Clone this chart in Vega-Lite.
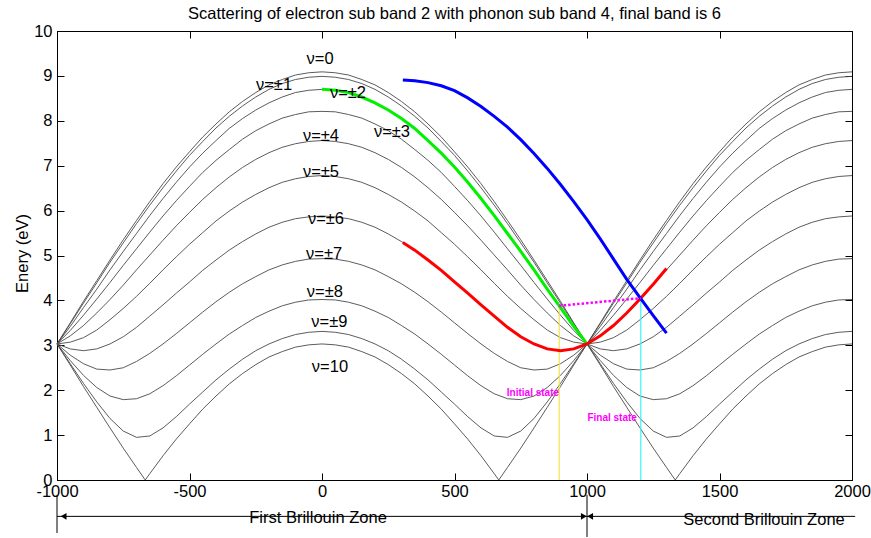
{
"$schema":"https://vega.github.io/schema/vega-lite/v6.json",
"width":795,"height":449,
"autosize":{"type":"none"},
"padding":{"left":57,"top":31,"right":19,"bottom":58},
"background":"white",
"title":{"text":"Scattering of electron sub band 2 with phonon sub band 4, final band is 6","font":"Liberation Sans","fontSize":16.5,"fontWeight":"normal","color":"#000","anchor":"middle","offset":1},
"config":{"view":{"stroke":"#000","strokeWidth":1},"axis":{"grid":false,"labelFont":"Liberation Sans","labelFontSize":16.5,"labelColor":"#000","titleFont":"Liberation Sans","titleFontSize":16.5,"titleFontWeight":"normal","titleColor":"#000","domainColor":"#000","tickColor":"#000","labelFlush":false,"labelOverlap":false}},
"datasets":{
"bands":[
{"n":0,"k":-1000,"E":3.03},{"n":0,"k":-950,"E":3.50},{"n":0,"k":-900,"E":3.98},{"n":0,"k":-850,"E":4.44},{"n":0,"k":-800,"E":4.90},{"n":0,"k":-750,"E":5.35},{"n":0,"k":-700,"E":5.78},{"n":0,"k":-650,"E":6.20},{"n":0,"k":-600,"E":6.60},{"n":0,"k":-550,"E":6.97},{"n":0,"k":-500,"E":7.31},{"n":0,"k":-450,"E":7.64},{"n":0,"k":-400,"E":7.93},{"n":0,"k":-350,"E":8.20},{"n":0,"k":-300,"E":8.43},{"n":0,"k":-250,"E":8.63},{"n":0,"k":-200,"E":8.80},{"n":0,"k":-150,"E":8.92},{"n":0,"k":-100,"E":9.02},{"n":0,"k":-50,"E":9.07},{"n":0,"k":0,"E":9.09},
{"n":0,"k":50,"E":9.07},{"n":0,"k":100,"E":9.02},{"n":0,"k":150,"E":8.92},{"n":0,"k":200,"E":8.80},{"n":0,"k":250,"E":8.63},{"n":0,"k":300,"E":8.43},{"n":0,"k":350,"E":8.20},{"n":0,"k":400,"E":7.93},{"n":0,"k":450,"E":7.64},{"n":0,"k":500,"E":7.31},{"n":0,"k":550,"E":6.97},{"n":0,"k":600,"E":6.60},{"n":0,"k":650,"E":6.20},{"n":0,"k":700,"E":5.78},{"n":0,"k":750,"E":5.35},{"n":0,"k":800,"E":4.90},{"n":0,"k":850,"E":4.44},{"n":0,"k":900,"E":3.98},{"n":0,"k":950,"E":3.50},{"n":0,"k":1000,"E":3.03},
{"n":0,"k":1050,"E":3.50},{"n":0,"k":1100,"E":3.98},{"n":0,"k":1150,"E":4.44},{"n":0,"k":1200,"E":4.90},{"n":0,"k":1250,"E":5.35},{"n":0,"k":1300,"E":5.78},{"n":0,"k":1350,"E":6.20},{"n":0,"k":1400,"E":6.60},{"n":0,"k":1450,"E":6.97},{"n":0,"k":1500,"E":7.31},{"n":0,"k":1550,"E":7.64},{"n":0,"k":1600,"E":7.93},{"n":0,"k":1650,"E":8.20},{"n":0,"k":1700,"E":8.43},{"n":0,"k":1750,"E":8.63},{"n":0,"k":1800,"E":8.80},{"n":0,"k":1850,"E":8.92},{"n":0,"k":1900,"E":9.02},{"n":0,"k":1950,"E":9.07},{"n":0,"k":2000,"E":9.09},

{"n":1,"k":-1000,"E":3.03},{"n":1,"k":-950,"E":3.48},{"n":1,"k":-900,"E":3.94},{"n":1,"k":-850,"E":4.39},{"n":1,"k":-800,"E":4.85},{"n":1,"k":-750,"E":5.28},{"n":1,"k":-700,"E":5.71},{"n":1,"k":-650,"E":6.12},{"n":1,"k":-600,"E":6.51},{"n":1,"k":-550,"E":6.88},{"n":1,"k":-500,"E":7.23},{"n":1,"k":-450,"E":7.54},{"n":1,"k":-400,"E":7.84},{"n":1,"k":-350,"E":8.10},{"n":1,"k":-300,"E":8.33},{"n":1,"k":-250,"E":8.53},{"n":1,"k":-200,"E":8.70},{"n":1,"k":-150,"E":8.83},{"n":1,"k":-100,"E":8.92},{"n":1,"k":-50,"E":8.97},{"n":1,"k":0,"E":8.99},
{"n":1,"k":50,"E":8.97},{"n":1,"k":100,"E":8.92},{"n":1,"k":150,"E":8.83},{"n":1,"k":200,"E":8.70},{"n":1,"k":250,"E":8.53},{"n":1,"k":300,"E":8.33},{"n":1,"k":350,"E":8.10},{"n":1,"k":400,"E":7.84},{"n":1,"k":450,"E":7.54},{"n":1,"k":500,"E":7.23},{"n":1,"k":550,"E":6.88},{"n":1,"k":600,"E":6.51},{"n":1,"k":650,"E":6.12},{"n":1,"k":700,"E":5.71},{"n":1,"k":750,"E":5.28},{"n":1,"k":800,"E":4.85},{"n":1,"k":850,"E":4.39},{"n":1,"k":900,"E":3.94},{"n":1,"k":950,"E":3.48},{"n":1,"k":1000,"E":3.03},
{"n":1,"k":1050,"E":3.48},{"n":1,"k":1100,"E":3.94},{"n":1,"k":1150,"E":4.39},{"n":1,"k":1200,"E":4.85},{"n":1,"k":1250,"E":5.28},{"n":1,"k":1300,"E":5.71},{"n":1,"k":1350,"E":6.12},{"n":1,"k":1400,"E":6.51},{"n":1,"k":1450,"E":6.88},{"n":1,"k":1500,"E":7.23},{"n":1,"k":1550,"E":7.54},{"n":1,"k":1600,"E":7.84},{"n":1,"k":1650,"E":8.10},{"n":1,"k":1700,"E":8.33},{"n":1,"k":1750,"E":8.53},{"n":1,"k":1800,"E":8.70},{"n":1,"k":1850,"E":8.83},{"n":1,"k":1900,"E":8.92},{"n":1,"k":1950,"E":8.97},{"n":1,"k":2000,"E":8.99},

{"n":2,"k":-1000,"E":3.03},{"n":2,"k":-950,"E":3.42},{"n":2,"k":-900,"E":3.84},{"n":2,"k":-850,"E":4.25},{"n":2,"k":-800,"E":4.68},{"n":2,"k":-750,"E":5.09},{"n":2,"k":-700,"E":5.49},{"n":2,"k":-650,"E":5.89},{"n":2,"k":-600,"E":6.27},{"n":2,"k":-550,"E":6.63},{"n":2,"k":-500,"E":6.97},{"n":2,"k":-450,"E":7.28},{"n":2,"k":-400,"E":7.56},{"n":2,"k":-350,"E":7.83},{"n":2,"k":-300,"E":8.05},{"n":2,"k":-250,"E":8.24},{"n":2,"k":-200,"E":8.40},{"n":2,"k":-150,"E":8.53},{"n":2,"k":-100,"E":8.63},{"n":2,"k":-50,"E":8.68},{"n":2,"k":0,"E":8.70},
{"n":2,"k":50,"E":8.68},{"n":2,"k":100,"E":8.63},{"n":2,"k":150,"E":8.53},{"n":2,"k":200,"E":8.40},{"n":2,"k":250,"E":8.24},{"n":2,"k":300,"E":8.05},{"n":2,"k":350,"E":7.83},{"n":2,"k":400,"E":7.56},{"n":2,"k":450,"E":7.28},{"n":2,"k":500,"E":6.97},{"n":2,"k":550,"E":6.63},{"n":2,"k":600,"E":6.27},{"n":2,"k":650,"E":5.89},{"n":2,"k":700,"E":5.49},{"n":2,"k":750,"E":5.09},{"n":2,"k":800,"E":4.68},{"n":2,"k":850,"E":4.25},{"n":2,"k":900,"E":3.84},{"n":2,"k":950,"E":3.42},{"n":2,"k":1000,"E":3.03},
{"n":2,"k":1050,"E":3.42},{"n":2,"k":1100,"E":3.84},{"n":2,"k":1150,"E":4.25},{"n":2,"k":1200,"E":4.68},{"n":2,"k":1250,"E":5.09},{"n":2,"k":1300,"E":5.49},{"n":2,"k":1350,"E":5.89},{"n":2,"k":1400,"E":6.27},{"n":2,"k":1450,"E":6.63},{"n":2,"k":1500,"E":6.97},{"n":2,"k":1550,"E":7.28},{"n":2,"k":1600,"E":7.56},{"n":2,"k":1650,"E":7.83},{"n":2,"k":1700,"E":8.05},{"n":2,"k":1750,"E":8.24},{"n":2,"k":1800,"E":8.40},{"n":2,"k":1850,"E":8.53},{"n":2,"k":1900,"E":8.63},{"n":2,"k":1950,"E":8.68},{"n":2,"k":2000,"E":8.70},

{"n":3,"k":-1000,"E":3.03},{"n":3,"k":-950,"E":3.33},{"n":3,"k":-900,"E":3.67},{"n":3,"k":-850,"E":4.03},{"n":3,"k":-800,"E":4.40},{"n":3,"k":-750,"E":4.78},{"n":3,"k":-700,"E":5.15},{"n":3,"k":-650,"E":5.52},{"n":3,"k":-600,"E":5.88},{"n":3,"k":-550,"E":6.22},{"n":3,"k":-500,"E":6.54},{"n":3,"k":-450,"E":6.85},{"n":3,"k":-400,"E":7.12},{"n":3,"k":-350,"E":7.36},{"n":3,"k":-300,"E":7.59},{"n":3,"k":-250,"E":7.78},{"n":3,"k":-200,"E":7.93},{"n":3,"k":-150,"E":8.06},{"n":3,"k":-100,"E":8.14},{"n":3,"k":-50,"E":8.20},{"n":3,"k":0,"E":8.21},
{"n":3,"k":50,"E":8.20},{"n":3,"k":100,"E":8.14},{"n":3,"k":150,"E":8.06},{"n":3,"k":200,"E":7.93},{"n":3,"k":250,"E":7.78},{"n":3,"k":300,"E":7.59},{"n":3,"k":350,"E":7.36},{"n":3,"k":400,"E":7.12},{"n":3,"k":450,"E":6.85},{"n":3,"k":500,"E":6.54},{"n":3,"k":550,"E":6.22},{"n":3,"k":600,"E":5.88},{"n":3,"k":650,"E":5.52},{"n":3,"k":700,"E":5.15},{"n":3,"k":750,"E":4.78},{"n":3,"k":800,"E":4.40},{"n":3,"k":850,"E":4.03},{"n":3,"k":900,"E":3.67},{"n":3,"k":950,"E":3.33},{"n":3,"k":1000,"E":3.03},
{"n":3,"k":1050,"E":3.33},{"n":3,"k":1100,"E":3.67},{"n":3,"k":1150,"E":4.03},{"n":3,"k":1200,"E":4.40},{"n":3,"k":1250,"E":4.78},{"n":3,"k":1300,"E":5.15},{"n":3,"k":1350,"E":5.52},{"n":3,"k":1400,"E":5.88},{"n":3,"k":1450,"E":6.22},{"n":3,"k":1500,"E":6.54},{"n":3,"k":1550,"E":6.85},{"n":3,"k":1600,"E":7.12},{"n":3,"k":1650,"E":7.36},{"n":3,"k":1700,"E":7.59},{"n":3,"k":1750,"E":7.78},{"n":3,"k":1800,"E":7.93},{"n":3,"k":1850,"E":8.06},{"n":3,"k":1900,"E":8.14},{"n":3,"k":1950,"E":8.20},{"n":3,"k":2000,"E":8.21},

{"n":4,"k":-1000,"E":3.03},{"n":4,"k":-950,"E":3.21},{"n":4,"k":-900,"E":3.44},{"n":4,"k":-850,"E":3.72},{"n":4,"k":-800,"E":4.02},{"n":4,"k":-750,"E":4.34},{"n":4,"k":-700,"E":4.68},{"n":4,"k":-650,"E":5.01},{"n":4,"k":-600,"E":5.34},{"n":4,"k":-550,"E":5.66},{"n":4,"k":-500,"E":5.96},{"n":4,"k":-450,"E":6.25},{"n":4,"k":-400,"E":6.51},{"n":4,"k":-350,"E":6.75},{"n":4,"k":-300,"E":6.96},{"n":4,"k":-250,"E":7.14},{"n":4,"k":-200,"E":7.29},{"n":4,"k":-150,"E":7.41},{"n":4,"k":-100,"E":7.49},{"n":4,"k":-50,"E":7.54},{"n":4,"k":0,"E":7.56},
{"n":4,"k":50,"E":7.54},{"n":4,"k":100,"E":7.49},{"n":4,"k":150,"E":7.41},{"n":4,"k":200,"E":7.29},{"n":4,"k":250,"E":7.14},{"n":4,"k":300,"E":6.96},{"n":4,"k":350,"E":6.75},{"n":4,"k":400,"E":6.51},{"n":4,"k":450,"E":6.25},{"n":4,"k":500,"E":5.96},{"n":4,"k":550,"E":5.66},{"n":4,"k":600,"E":5.34},{"n":4,"k":650,"E":5.01},{"n":4,"k":700,"E":4.68},{"n":4,"k":750,"E":4.34},{"n":4,"k":800,"E":4.02},{"n":4,"k":850,"E":3.72},{"n":4,"k":900,"E":3.44},{"n":4,"k":950,"E":3.21},{"n":4,"k":1000,"E":3.03},
{"n":4,"k":1050,"E":3.21},{"n":4,"k":1100,"E":3.44},{"n":4,"k":1150,"E":3.72},{"n":4,"k":1200,"E":4.02},{"n":4,"k":1250,"E":4.34},{"n":4,"k":1300,"E":4.68},{"n":4,"k":1350,"E":5.01},{"n":4,"k":1400,"E":5.34},{"n":4,"k":1450,"E":5.66},{"n":4,"k":1500,"E":5.96},{"n":4,"k":1550,"E":6.25},{"n":4,"k":1600,"E":6.51},{"n":4,"k":1650,"E":6.75},{"n":4,"k":1700,"E":6.96},{"n":4,"k":1750,"E":7.14},{"n":4,"k":1800,"E":7.29},{"n":4,"k":1850,"E":7.41},{"n":4,"k":1900,"E":7.49},{"n":4,"k":1950,"E":7.54},{"n":4,"k":2000,"E":7.56},

{"n":5,"k":-1000,"E":3.03},{"n":5,"k":-950,"E":3.07},{"n":5,"k":-900,"E":3.17},{"n":5,"k":-850,"E":3.34},{"n":5,"k":-800,"E":3.57},{"n":5,"k":-750,"E":3.82},{"n":5,"k":-700,"E":4.09},{"n":5,"k":-650,"E":4.38},{"n":5,"k":-600,"E":4.68},{"n":5,"k":-550,"E":4.97},{"n":5,"k":-500,"E":5.25},{"n":5,"k":-450,"E":5.51},{"n":5,"k":-400,"E":5.77},{"n":5,"k":-350,"E":5.99},{"n":5,"k":-300,"E":6.19},{"n":5,"k":-250,"E":6.36},{"n":5,"k":-200,"E":6.51},{"n":5,"k":-150,"E":6.63},{"n":5,"k":-100,"E":6.71},{"n":5,"k":-50,"E":6.76},{"n":5,"k":0,"E":6.78},
{"n":5,"k":50,"E":6.76},{"n":5,"k":100,"E":6.71},{"n":5,"k":150,"E":6.63},{"n":5,"k":200,"E":6.51},{"n":5,"k":250,"E":6.36},{"n":5,"k":300,"E":6.19},{"n":5,"k":350,"E":5.99},{"n":5,"k":400,"E":5.77},{"n":5,"k":450,"E":5.51},{"n":5,"k":500,"E":5.25},{"n":5,"k":550,"E":4.97},{"n":5,"k":600,"E":4.68},{"n":5,"k":650,"E":4.38},{"n":5,"k":700,"E":4.09},{"n":5,"k":750,"E":3.82},{"n":5,"k":800,"E":3.57},{"n":5,"k":850,"E":3.34},{"n":5,"k":900,"E":3.17},{"n":5,"k":950,"E":3.07},{"n":5,"k":1000,"E":3.03},
{"n":5,"k":1050,"E":3.07},{"n":5,"k":1100,"E":3.17},{"n":5,"k":1150,"E":3.34},{"n":5,"k":1200,"E":3.57},{"n":5,"k":1250,"E":3.82},{"n":5,"k":1300,"E":4.09},{"n":5,"k":1350,"E":4.38},{"n":5,"k":1400,"E":4.68},{"n":5,"k":1450,"E":4.97},{"n":5,"k":1500,"E":5.25},{"n":5,"k":1550,"E":5.51},{"n":5,"k":1600,"E":5.77},{"n":5,"k":1650,"E":5.99},{"n":5,"k":1700,"E":6.19},{"n":5,"k":1750,"E":6.36},{"n":5,"k":1800,"E":6.51},{"n":5,"k":1850,"E":6.63},{"n":5,"k":1900,"E":6.71},{"n":5,"k":1950,"E":6.76},{"n":5,"k":2000,"E":6.78},

{"n":6,"k":-1000,"E":3.03},{"n":6,"k":-950,"E":2.92},{"n":6,"k":-900,"E":2.88},{"n":6,"k":-850,"E":2.92},{"n":6,"k":-800,"E":3.03},{"n":6,"k":-750,"E":3.19},{"n":6,"k":-700,"E":3.40},{"n":6,"k":-650,"E":3.65},{"n":6,"k":-600,"E":3.90},{"n":6,"k":-550,"E":4.16},{"n":6,"k":-500,"E":4.41},{"n":6,"k":-450,"E":4.67},{"n":6,"k":-400,"E":4.90},{"n":6,"k":-350,"E":5.12},{"n":6,"k":-300,"E":5.31},{"n":6,"k":-250,"E":5.48},{"n":6,"k":-200,"E":5.63},{"n":6,"k":-150,"E":5.74},{"n":6,"k":-100,"E":5.82},{"n":6,"k":-50,"E":5.86},{"n":6,"k":0,"E":5.88},
{"n":6,"k":50,"E":5.86},{"n":6,"k":100,"E":5.82},{"n":6,"k":150,"E":5.74},{"n":6,"k":200,"E":5.63},{"n":6,"k":250,"E":5.48},{"n":6,"k":300,"E":5.31},{"n":6,"k":350,"E":5.12},{"n":6,"k":400,"E":4.90},{"n":6,"k":450,"E":4.67},{"n":6,"k":500,"E":4.41},{"n":6,"k":550,"E":4.16},{"n":6,"k":600,"E":3.90},{"n":6,"k":650,"E":3.65},{"n":6,"k":700,"E":3.40},{"n":6,"k":750,"E":3.19},{"n":6,"k":800,"E":3.03},{"n":6,"k":850,"E":2.92},{"n":6,"k":900,"E":2.88},{"n":6,"k":950,"E":2.92},{"n":6,"k":1000,"E":3.03},
{"n":6,"k":1050,"E":2.92},{"n":6,"k":1100,"E":2.88},{"n":6,"k":1150,"E":2.92},{"n":6,"k":1200,"E":3.03},{"n":6,"k":1250,"E":3.19},{"n":6,"k":1300,"E":3.40},{"n":6,"k":1350,"E":3.65},{"n":6,"k":1400,"E":3.90},{"n":6,"k":1450,"E":4.16},{"n":6,"k":1500,"E":4.41},{"n":6,"k":1550,"E":4.67},{"n":6,"k":1600,"E":4.90},{"n":6,"k":1650,"E":5.12},{"n":6,"k":1700,"E":5.31},{"n":6,"k":1750,"E":5.48},{"n":6,"k":1800,"E":5.63},{"n":6,"k":1850,"E":5.74},{"n":6,"k":1900,"E":5.82},{"n":6,"k":1950,"E":5.86},{"n":6,"k":2000,"E":5.88},

{"n":7,"k":-1000,"E":3.03},{"n":7,"k":-950,"E":2.78},{"n":7,"k":-900,"E":2.59},{"n":7,"k":-850,"E":2.47},{"n":7,"k":-800,"E":2.45},{"n":7,"k":-750,"E":2.50},{"n":7,"k":-700,"E":2.64},{"n":7,"k":-650,"E":2.82},{"n":7,"k":-600,"E":3.03},{"n":7,"k":-550,"E":3.26},{"n":7,"k":-500,"E":3.50},{"n":7,"k":-450,"E":3.74},{"n":7,"k":-400,"E":3.97},{"n":7,"k":-350,"E":4.18},{"n":7,"k":-300,"E":4.37},{"n":7,"k":-250,"E":4.53},{"n":7,"k":-200,"E":4.68},{"n":7,"k":-150,"E":4.79},{"n":7,"k":-100,"E":4.87},{"n":7,"k":-50,"E":4.92},{"n":7,"k":0,"E":4.93},
{"n":7,"k":50,"E":4.92},{"n":7,"k":100,"E":4.87},{"n":7,"k":150,"E":4.79},{"n":7,"k":200,"E":4.68},{"n":7,"k":250,"E":4.53},{"n":7,"k":300,"E":4.37},{"n":7,"k":350,"E":4.18},{"n":7,"k":400,"E":3.97},{"n":7,"k":450,"E":3.74},{"n":7,"k":500,"E":3.50},{"n":7,"k":550,"E":3.26},{"n":7,"k":600,"E":3.03},{"n":7,"k":650,"E":2.82},{"n":7,"k":700,"E":2.64},{"n":7,"k":750,"E":2.50},{"n":7,"k":800,"E":2.45},{"n":7,"k":850,"E":2.47},{"n":7,"k":900,"E":2.59},{"n":7,"k":950,"E":2.78},{"n":7,"k":1000,"E":3.03},
{"n":7,"k":1050,"E":2.78},{"n":7,"k":1100,"E":2.59},{"n":7,"k":1150,"E":2.47},{"n":7,"k":1200,"E":2.45},{"n":7,"k":1250,"E":2.50},{"n":7,"k":1300,"E":2.64},{"n":7,"k":1350,"E":2.82},{"n":7,"k":1400,"E":3.03},{"n":7,"k":1450,"E":3.26},{"n":7,"k":1500,"E":3.50},{"n":7,"k":1550,"E":3.74},{"n":7,"k":1600,"E":3.97},{"n":7,"k":1650,"E":4.18},{"n":7,"k":1700,"E":4.37},{"n":7,"k":1750,"E":4.53},{"n":7,"k":1800,"E":4.68},{"n":7,"k":1850,"E":4.79},{"n":7,"k":1900,"E":4.87},{"n":7,"k":1950,"E":4.92},{"n":7,"k":2000,"E":4.93},

{"n":8,"k":-1000,"E":3.03},{"n":8,"k":-950,"E":2.66},{"n":8,"k":-900,"E":2.33},{"n":8,"k":-850,"E":2.06},{"n":8,"k":-800,"E":1.87},{"n":8,"k":-750,"E":1.79},{"n":8,"k":-700,"E":1.81},{"n":8,"k":-650,"E":1.92},{"n":8,"k":-600,"E":2.10},{"n":8,"k":-550,"E":2.32},{"n":8,"k":-500,"E":2.56},{"n":8,"k":-450,"E":2.80},{"n":8,"k":-400,"E":3.03},{"n":8,"k":-350,"E":3.25},{"n":8,"k":-300,"E":3.44},{"n":8,"k":-250,"E":3.62},{"n":8,"k":-200,"E":3.76},{"n":8,"k":-150,"E":3.88},{"n":8,"k":-100,"E":3.96},{"n":8,"k":-50,"E":4.01},{"n":8,"k":0,"E":4.02},
{"n":8,"k":50,"E":4.01},{"n":8,"k":100,"E":3.96},{"n":8,"k":150,"E":3.88},{"n":8,"k":200,"E":3.76},{"n":8,"k":250,"E":3.62},{"n":8,"k":300,"E":3.44},{"n":8,"k":350,"E":3.25},{"n":8,"k":400,"E":3.03},{"n":8,"k":450,"E":2.80},{"n":8,"k":500,"E":2.56},{"n":8,"k":550,"E":2.32},{"n":8,"k":600,"E":2.10},{"n":8,"k":650,"E":1.92},{"n":8,"k":700,"E":1.81},{"n":8,"k":750,"E":1.79},{"n":8,"k":800,"E":1.87},{"n":8,"k":850,"E":2.06},{"n":8,"k":900,"E":2.33},{"n":8,"k":950,"E":2.66},{"n":8,"k":1000,"E":3.03},
{"n":8,"k":1050,"E":2.66},{"n":8,"k":1100,"E":2.33},{"n":8,"k":1150,"E":2.06},{"n":8,"k":1200,"E":1.87},{"n":8,"k":1250,"E":1.79},{"n":8,"k":1300,"E":1.81},{"n":8,"k":1350,"E":1.92},{"n":8,"k":1400,"E":2.10},{"n":8,"k":1450,"E":2.32},{"n":8,"k":1500,"E":2.56},{"n":8,"k":1550,"E":2.80},{"n":8,"k":1600,"E":3.03},{"n":8,"k":1650,"E":3.25},{"n":8,"k":1700,"E":3.44},{"n":8,"k":1750,"E":3.62},{"n":8,"k":1800,"E":3.76},{"n":8,"k":1850,"E":3.88},{"n":8,"k":1900,"E":3.96},{"n":8,"k":1950,"E":4.01},{"n":8,"k":2000,"E":4.02},

{"n":9,"k":-1000,"E":3.03},{"n":9,"k":-950,"E":2.59},{"n":9,"k":-900,"E":2.15},{"n":9,"k":-850,"E":1.74},{"n":9,"k":-800,"E":1.37},{"n":9,"k":-750,"E":1.09},{"n":9,"k":-700,"E":0.95},{"n":9,"k":-650,"E":0.98},{"n":9,"k":-600,"E":1.16},{"n":9,"k":-550,"E":1.41},{"n":9,"k":-500,"E":1.69},{"n":9,"k":-450,"E":1.96},{"n":9,"k":-400,"E":2.23},{"n":9,"k":-350,"E":2.47},{"n":9,"k":-300,"E":2.69},{"n":9,"k":-250,"E":2.88},{"n":9,"k":-200,"E":3.03},{"n":9,"k":-150,"E":3.15},{"n":9,"k":-100,"E":3.24},{"n":9,"k":-50,"E":3.29},{"n":9,"k":0,"E":3.31},
{"n":9,"k":50,"E":3.29},{"n":9,"k":100,"E":3.24},{"n":9,"k":150,"E":3.15},{"n":9,"k":200,"E":3.03},{"n":9,"k":250,"E":2.88},{"n":9,"k":300,"E":2.69},{"n":9,"k":350,"E":2.47},{"n":9,"k":400,"E":2.23},{"n":9,"k":450,"E":1.96},{"n":9,"k":500,"E":1.69},{"n":9,"k":550,"E":1.41},{"n":9,"k":600,"E":1.16},{"n":9,"k":650,"E":0.98},{"n":9,"k":700,"E":0.95},{"n":9,"k":750,"E":1.09},{"n":9,"k":800,"E":1.37},{"n":9,"k":850,"E":1.74},{"n":9,"k":900,"E":2.15},{"n":9,"k":950,"E":2.59},{"n":9,"k":1000,"E":3.03},
{"n":9,"k":1050,"E":2.59},{"n":9,"k":1100,"E":2.15},{"n":9,"k":1150,"E":1.74},{"n":9,"k":1200,"E":1.37},{"n":9,"k":1250,"E":1.09},{"n":9,"k":1300,"E":0.95},{"n":9,"k":1350,"E":0.98},{"n":9,"k":1400,"E":1.16},{"n":9,"k":1450,"E":1.41},{"n":9,"k":1500,"E":1.69},{"n":9,"k":1550,"E":1.96},{"n":9,"k":1600,"E":2.23},{"n":9,"k":1650,"E":2.47},{"n":9,"k":1700,"E":2.69},{"n":9,"k":1750,"E":2.88},{"n":9,"k":1800,"E":3.03},{"n":9,"k":1850,"E":3.15},{"n":9,"k":1900,"E":3.24},{"n":9,"k":1950,"E":3.29},{"n":9,"k":2000,"E":3.31},

{"n":10,"k":-1000,"E":3.03},{"n":10,"k":-950,"E":2.56},{"n":10,"k":-900,"E":2.08},{"n":10,"k":-850,"E":1.62},{"n":10,"k":-800,"E":1.16},{"n":10,"k":-750,"E":0.71},{"n":10,"k":-700,"E":0.28},{"n":10,"k":-667,"E":0},{"n":10,"k":-650,"E":0.14},{"n":10,"k":-600,"E":0.54},{"n":10,"k":-550,"E":0.91},{"n":10,"k":-500,"E":1.25},{"n":10,"k":-450,"E":1.58},{"n":10,"k":-400,"E":1.87},{"n":10,"k":-350,"E":2.14},{"n":10,"k":-300,"E":2.37},{"n":10,"k":-250,"E":2.57},{"n":10,"k":-200,"E":2.74},{"n":10,"k":-150,"E":2.86},{"n":10,"k":-100,"E":2.96},{"n":10,"k":-50,"E":3.01},{"n":10,"k":0,"E":3.03},
{"n":10,"k":50,"E":3.01},{"n":10,"k":100,"E":2.96},{"n":10,"k":150,"E":2.86},{"n":10,"k":200,"E":2.74},{"n":10,"k":250,"E":2.57},{"n":10,"k":300,"E":2.37},{"n":10,"k":350,"E":2.14},{"n":10,"k":400,"E":1.87},{"n":10,"k":450,"E":1.58},{"n":10,"k":500,"E":1.25},{"n":10,"k":550,"E":0.91},{"n":10,"k":600,"E":0.54},{"n":10,"k":650,"E":0.14},{"n":10,"k":667,"E":0},{"n":10,"k":700,"E":0.28},{"n":10,"k":750,"E":0.71},{"n":10,"k":800,"E":1.16},{"n":10,"k":850,"E":1.62},{"n":10,"k":900,"E":2.08},{"n":10,"k":950,"E":2.56},{"n":10,"k":1000,"E":3.03},
{"n":10,"k":1050,"E":2.56},{"n":10,"k":1100,"E":2.08},{"n":10,"k":1150,"E":1.62},{"n":10,"k":1200,"E":1.16},{"n":10,"k":1250,"E":0.71},{"n":10,"k":1300,"E":0.28},{"n":10,"k":1333,"E":0},{"n":10,"k":1350,"E":0.14},{"n":10,"k":1400,"E":0.54},{"n":10,"k":1450,"E":0.91},{"n":10,"k":1500,"E":1.25},{"n":10,"k":1550,"E":1.58},{"n":10,"k":1600,"E":1.87},{"n":10,"k":1650,"E":2.14},{"n":10,"k":1700,"E":2.37},{"n":10,"k":1750,"E":2.57},{"n":10,"k":1800,"E":2.74},{"n":10,"k":1850,"E":2.86},{"n":10,"k":1900,"E":2.96},{"n":10,"k":1950,"E":3.01},{"n":10,"k":2000,"E":3.03}
],
"green":[{"k":0,"E":8.70},{"k":50,"E":8.68},{"k":100,"E":8.63},{"k":150,"E":8.53},{"k":200,"E":8.40},{"k":250,"E":8.24},{"k":300,"E":8.05},{"k":350,"E":7.83},{"k":400,"E":7.56},{"k":450,"E":7.28},{"k":500,"E":6.97},{"k":550,"E":6.63},{"k":600,"E":6.27},{"k":650,"E":5.89},{"k":700,"E":5.49},{"k":750,"E":5.09},{"k":800,"E":4.68},{"k":850,"E":4.25},{"k":900,"E":3.84},{"k":950,"E":3.42},{"k":1000,"E":3.03}],
"red":[{"k":305,"E":5.29},{"k":350,"E":5.12},{"k":400,"E":4.90},{"k":450,"E":4.67},{"k":500,"E":4.41},{"k":550,"E":4.16},{"k":600,"E":3.90},{"k":650,"E":3.65},{"k":700,"E":3.40},{"k":750,"E":3.19},{"k":800,"E":3.03},{"k":850,"E":2.92},{"k":900,"E":2.88},{"k":950,"E":2.92},{"k":1000,"E":3.03},{"k":1050,"E":3.21},{"k":1100,"E":3.44},{"k":1150,"E":3.72},{"k":1200,"E":4.03},{"k":1250,"E":4.36},{"k":1300,"E":4.71}],
"blue":[{"k":305,"E":8.91},{"k":350,"E":8.89},{"k":400,"E":8.85},{"k":450,"E":8.78},{"k":500,"E":8.67},{"k":550,"E":8.51},{"k":600,"E":8.32},{"k":650,"E":8.10},{"k":700,"E":7.86},{"k":750,"E":7.58},{"k":800,"E":7.27},{"k":850,"E":6.94},{"k":900,"E":6.58},{"k":950,"E":6.20},{"k":1000,"E":5.80},{"k":1050,"E":5.37},{"k":1100,"E":4.92},{"k":1150,"E":4.47},{"k":1200,"E":4.06},{"k":1250,"E":3.66},{"k":1300,"E":3.27}],
"dotted":[{"k":895,"E":3.88},{"k":1203,"E":4.05}],
"vlines":[{"k":895,"E":0,"E2":3.88,"c":"yellow"},{"k":1203,"E":0,"E2":4.05,"c":"cyan"}],
"labels":[{"k":-7,"E":9.38,"t":"ν=0"},{"k":-181,"E":8.80,"t":"ν=±1"},{"k":98,"E":8.63,"t":"ν=±2"},{"k":264,"E":7.76,"t":"ν=±3"},{"k":-4,"E":7.67,"t":"ν=±4"},{"k":-4,"E":6.87,"t":"ν=±5"},{"k":15,"E":5.81,"t":"ν=±6"},{"k":8,"E":5.03,"t":"ν=±7"},{"k":11,"E":4.18,"t":"ν=±8"},{"k":28,"E":3.51,"t":"ν=±9"},{"k":30,"E":2.51,"t":"ν=10"}],
"states":[{"k":796,"E":1.93,"t":"Initial state"},{"k":1095,"E":1.39,"t":"Final state"}],
"zrules":[{"k":-1000,"k2":1000,"E":-0.81,"E2":-0.81},{"k":1000,"k2":2012,"E":-0.81,"E2":-0.81},{"k":-1000,"k2":-1000,"E":-0.33,"E2":-1.18},{"k":1000,"k2":1000,"E":-0.33,"E2":-1.27}],
"zheads":[{"k":-975,"E":-0.81,"sh":"triangle-left"},{"k":988,"E":-0.81,"sh":"triangle-right"},{"k":1012,"E":-0.81,"sh":"triangle-left"}],
"ztext":[{"k":-15,"E":-0.84,"t":"First Brillouin Zone"},{"k":1668,"E":-0.88,"t":"Second Brillouin Zone"}]
},
"layer":[
{"data":{"name":"bands"},"mark":{"type":"line","color":"#4a4a4a","strokeWidth":0.9},
 "encoding":{
  "x":{"field":"k","type":"quantitative","scale":{"domain":[-1000,2000],"nice":false,"zero":false},"axis":{"orient":"bottom","title":null,"values":[-1000,-500,0,500,1000,1500,2000],"labelExpr":"'' + datum.value","tickSize":-7,"labelPadding":10}},
  "y":{"field":"E","type":"quantitative","scale":{"domain":[0,10],"nice":false,"zero":false},"axis":{"orient":"left","title":"Enery (eV)","values":[0,1,2,3,4,5,6,7,8,9,10],"labelExpr":"'' + datum.value","tickSize":-7,"labelPadding":12,"titleX":-35,"titleY":222,"titleAngle":-90,"titleBaseline":"middle","titleAlign":"center"}},
  "detail":{"field":"n","type":"nominal"}}},
{"data":{"name":"vlines"},"mark":{"type":"rule","strokeWidth":1.2},
 "encoding":{
  "x":{"field":"k","type":"quantitative","scale":{"domain":[-1000,2000],"nice":false,"zero":false},"axis":{"orient":"top","title":null,"labels":false,"values":[-1000,-500,0,500,1000,1500,2000],"tickSize":-7}},
  "y":{"field":"E","type":"quantitative","scale":{"domain":[0,10],"nice":false,"zero":false},"axis":{"orient":"right","title":null,"labels":false,"values":[0,1,2,3,4,5,6,7,8,9,10],"tickSize":-7}},
  "y2":{"field":"E2"},
  "color":{"field":"c","type":"nominal","scale":{"domain":["yellow","cyan"],"range":["#f2e34a","#40f0f8"]},"legend":null}}},
{"data":{"name":"green"},"mark":{"type":"line","color":"#00f000","strokeWidth":3},
 "encoding":{"x":{"field":"k","type":"quantitative","scale":{"domain":[-1000,2000],"nice":false,"zero":false},"axis":null},"y":{"field":"E","type":"quantitative","scale":{"domain":[0,10],"nice":false,"zero":false},"axis":null}}},
{"data":{"name":"red"},"mark":{"type":"line","color":"#ff0000","strokeWidth":3},
 "encoding":{"x":{"field":"k","type":"quantitative","scale":{"domain":[-1000,2000],"nice":false,"zero":false},"axis":null},"y":{"field":"E","type":"quantitative","scale":{"domain":[0,10],"nice":false,"zero":false},"axis":null}}},
{"data":{"name":"blue"},"mark":{"type":"line","color":"#0000ff","strokeWidth":3},
 "encoding":{"x":{"field":"k","type":"quantitative","scale":{"domain":[-1000,2000],"nice":false,"zero":false},"axis":null},"y":{"field":"E","type":"quantitative","scale":{"domain":[0,10],"nice":false,"zero":false},"axis":null}}},
{"data":{"name":"dotted"},"mark":{"type":"line","color":"#ff00ff","strokeWidth":2.5,"strokeDash":[2.5,2]},
 "encoding":{"x":{"field":"k","type":"quantitative","scale":{"domain":[-1000,2000],"nice":false,"zero":false},"axis":null},"y":{"field":"E","type":"quantitative","scale":{"domain":[0,10],"nice":false,"zero":false},"axis":null}}},
{"data":{"name":"labels"},"mark":{"type":"text","font":"Liberation Sans","fontSize":16.5,"color":"#000","align":"center","baseline":"middle"},
 "encoding":{"x":{"field":"k","type":"quantitative","scale":{"domain":[-1000,2000],"nice":false,"zero":false},"axis":null},"y":{"field":"E","type":"quantitative","scale":{"domain":[0,10],"nice":false,"zero":false},"axis":null},"text":{"field":"t"}}},
{"data":{"name":"states"},"mark":{"type":"text","font":"Liberation Sans","fontSize":10,"fontWeight":"bold","color":"#ff00ff","align":"center","baseline":"middle"},
 "encoding":{"x":{"field":"k","type":"quantitative","scale":{"domain":[-1000,2000],"nice":false,"zero":false},"axis":null},"y":{"field":"E","type":"quantitative","scale":{"domain":[0,10],"nice":false,"zero":false},"axis":null},"text":{"field":"t"}}},
{"data":{"name":"zrules"},"mark":{"type":"rule","color":"#000","strokeWidth":1},
 "encoding":{"x":{"field":"k","type":"quantitative","scale":{"domain":[-1000,2000],"nice":false,"zero":false},"axis":null},"x2":{"field":"k2"},"y":{"field":"E","type":"quantitative","scale":{"domain":[0,10],"nice":false,"zero":false},"axis":null},"y2":{"field":"E2"}}},
{"data":{"name":"zheads"},"mark":{"type":"point","filled":true,"color":"#000","size":45,"opacity":1},
 "encoding":{"x":{"field":"k","type":"quantitative","scale":{"domain":[-1000,2000],"nice":false,"zero":false},"axis":null},"y":{"field":"E","type":"quantitative","scale":{"domain":[0,10],"nice":false,"zero":false},"axis":null},"shape":{"field":"sh","type":"nominal","scale":null}}},
{"data":{"name":"ztext"},"mark":{"type":"text","font":"Liberation Sans","fontSize":16.5,"color":"#000","align":"center","baseline":"middle"},
 "encoding":{"x":{"field":"k","type":"quantitative","scale":{"domain":[-1000,2000],"nice":false,"zero":false},"axis":null},"y":{"field":"E","type":"quantitative","scale":{"domain":[0,10],"nice":false,"zero":false},"axis":null},"text":{"field":"t"}}}
],
"resolve":{"axis":{"x":"independent","y":"independent"}}
}
